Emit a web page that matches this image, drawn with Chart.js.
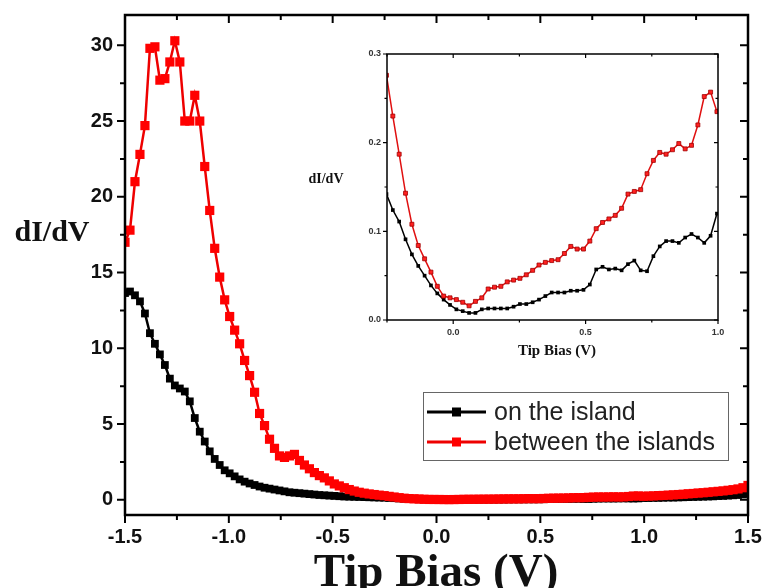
<!DOCTYPE html>
<html>
<head>
<meta charset="utf-8">
<script src="https://cdn.jsdelivr.net/npm/chart.js@4/dist/chart.umd.min.js"></script>
<style>
  body { margin: 0; background: #fff; }
  #wrap { position: relative; width: 765px; height: 588px; }
  #main { position: absolute; left: 0; top: 0; }
  #inset { position: absolute; left: 300px; top: 40px; }
</style>
</head>
<body>
<div id="wrap">
  <canvas id="main" width="765" height="588"></canvas>
  <canvas id="inset" width="440" height="330"></canvas>
</div>
<script>
// tip bias grid (V): -1.5 .. 1.5, 126 samples
const BIAS_START = -1.5
const BIAS_STEP = 0.024
const bias = []
for (let i = 0; i < 126; i++) bias.push(+(BIAS_START + i * BIAS_STEP).toFixed(3))

// dI/dV on the island (black)
const onIsland = [
  13.65, 13.75, 13.5, 13.1, 12.3, 11.0, 10.3, 9.6, 8.9, 8.0,
  7.55, 7.35, 7.15, 6.5, 5.4, 4.5, 3.85, 3.2, 2.7, 2.3,
  1.95, 1.75, 1.55, 1.35, 1.2, 1.08, 0.98, 0.88, 0.8, 0.74,
  0.68, 0.62, 0.56, 0.5, 0.47, 0.44, 0.41, 0.38, 0.35, 0.32,
  0.3, 0.28, 0.26, 0.24, 0.22, 0.21, 0.2, 0.19, 0.18, 0.17,
  0.16, 0.15, 0.142, 0.124, 0.111, 0.091, 0.074, 0.061, 0.050, 0.039,
  0.030, 0.023, 0.017, 0.012, 0.010, 0.008, 0.008, 0.012, 0.013, 0.013,
  0.013, 0.013, 0.015, 0.018, 0.018, 0.020, 0.023, 0.027, 0.031, 0.031,
  0.031, 0.033, 0.033, 0.034, 0.040, 0.057, 0.060, 0.057, 0.058, 0.056,
  0.063, 0.067, 0.056, 0.055, 0.072, 0.083, 0.089, 0.089, 0.087, 0.093,
  0.097, 0.093, 0.087, 0.095, 0.120, 0.12, 0.13, 0.13, 0.14, 0.15,
  0.15, 0.16, 0.17, 0.18, 0.19, 0.20, 0.21, 0.22, 0.23, 0.25,
  0.26, 0.28, 0.30, 0.32, 0.36, 0.42
]

// dI/dV between the islands (red)
const betweenIslands = [
  17.0, 17.8, 21.0, 22.8, 24.7, 29.8, 29.9, 27.7, 27.8, 28.9,
  30.3, 28.9, 25.0, 25.0, 26.7, 25.0, 22.0, 19.1, 16.6, 14.7,
  13.2, 12.1, 11.2, 10.3, 9.2, 8.2, 7.1, 5.7, 4.9, 4.0,
  3.4, 2.9, 2.8, 2.9, 3.0, 2.6, 2.3, 2.05, 1.8, 1.6,
  1.45, 1.25, 1.05, 0.92, 0.8, 0.68, 0.58, 0.5, 0.44, 0.39,
  0.35, 0.31, 0.276, 0.230, 0.187, 0.143, 0.108, 0.084, 0.069, 0.054,
  0.038, 0.027, 0.025, 0.023, 0.020, 0.016, 0.021, 0.025, 0.035, 0.037,
  0.038, 0.043, 0.045, 0.047, 0.051, 0.056, 0.062, 0.065, 0.067, 0.068,
  0.075, 0.083, 0.080, 0.080, 0.089, 0.103, 0.110, 0.114, 0.118, 0.126,
  0.142, 0.145, 0.147, 0.165, 0.180, 0.189, 0.187, 0.192, 0.199, 0.193,
  0.197, 0.220, 0.252, 0.257, 0.235, 0.25, 0.26, 0.28, 0.29, 0.31,
  0.33, 0.35, 0.37, 0.40, 0.42, 0.45, 0.47, 0.50, 0.53, 0.56,
  0.59, 0.63, 0.67, 0.72, 0.80, 0.95
]

// ticks
const mainXMajor = [-1.5, -1.0, -0.5, 0.0, 0.5, 1.0, 1.5]
const mainXMinor = [-1.25, -0.75, -0.25, 0.25, 0.75, 1.25]
const mainYMajor = [0, 5, 10, 15, 20, 25, 30]
const mainYMinor = [2.5, 7.5, 12.5, 17.5, 22.5, 27.5]
const insetXMajor = [0.0, 0.5, 1.0]
const insetXMinor = [-0.25, 0.25, 0.75]
const insetYMajor = [0.0, 0.1, 0.2, 0.3]
const insetYMinor = [0.05, 0.15, 0.25]

const seriesNames = ["on the island", "between the islands"]

const pts = (xs, ys) => xs.map((x, i) => ({ x, y: ys[i] }))

// box frame + Origin-style ticks (outward on bottom/left, inward on top/right)
const frameTicks = {
  id: "frameTicks",
  afterDraw(chart, args, o) {
    const { ctx, chartArea: a, scales: { x, y } } = chart
    ctx.save()
    ctx.strokeStyle = "#000"
    ctx.lineWidth = o.tickWidth
    ctx.beginPath()
    const xt = (v, len) => {
      const p = x.getPixelForValue(v)
      ctx.moveTo(p, a.bottom); ctx.lineTo(p, a.bottom + len)
      ctx.moveTo(p, a.top); ctx.lineTo(p, a.top + len)
    }
    const yt = (v, len) => {
      const p = y.getPixelForValue(v)
      ctx.moveTo(a.left, p); ctx.lineTo(a.left - len, p)
      ctx.moveTo(a.right, p); ctx.lineTo(a.right - len, p)
    }
    o.xMajor.forEach(v => xt(v, o.major))
    o.xMinor.forEach(v => xt(v, o.minor))
    o.yMajor.forEach(v => yt(v, o.major))
    o.yMinor.forEach(v => yt(v, o.minor))
    ctx.stroke()
    ctx.lineWidth = o.frameWidth
    ctx.strokeRect(a.left, a.top, a.right - a.left, a.bottom - a.top)

    // axis titles
    ctx.fillStyle = "#111"
    ctx.textAlign = "center"
    ctx.textBaseline = "alphabetic"
    ctx.font = o.yTitleFont
    ctx.fillText("dI/dV", o.yTitlePos[0], o.yTitlePos[1])
    ctx.font = o.xTitleFont
    ctx.fillText("Tip Bias (V)", o.xTitlePos[0], o.xTitlePos[1])
    ctx.restore()
  },
}

const boxLegend = {
  id: "boxLegend",
  afterDraw(chart) {
    const { ctx } = chart
    ctx.save()
    ctx.strokeStyle = "#666"
    ctx.lineWidth = 1
    ctx.strokeRect(423.5, 392.5, 305, 68)
    chart.data.datasets.forEach((ds, i) => {
      const yRow = 412 + i * 30
      ctx.strokeStyle = ds.borderColor
      ctx.lineWidth = 3
      ctx.beginPath()
      ctx.moveTo(427, yRow); ctx.lineTo(486, yRow)
      ctx.stroke()
      ctx.fillStyle = ds.backgroundColor
      ctx.fillRect(452, yRow - 4.5, 9, 9)
      ctx.fillStyle = "#222"
      ctx.font = "25px 'Liberation Sans', Arial, sans-serif"
      ctx.textAlign = "left"
      ctx.textBaseline = "middle"
      ctx.fillText(seriesNames[i], 494, yRow + 1)
    })
    ctx.restore()
  },
}

const tickFont = { family: "'Liberation Sans', Arial, sans-serif", weight: "bold", size: 20 }

new Chart(document.getElementById("main"), {
  type: "scatter",
  data: {
    datasets: [
      {
        label: seriesNames[0],
        data: pts(bias, onIsland),
        showLine: true,
        borderColor: "#000",
        backgroundColor: "#000",
        borderWidth: 2.5,
        pointStyle: "rect",
        pointRadius: 5.5,
        pointBorderWidth: 0,
        order: 2,
      },
      {
        label: seriesNames[1],
        data: pts(bias, betweenIslands),
        showLine: true,
        borderColor: "#ee0000",
        backgroundColor: "#ff0000",
        borderWidth: 2.5,
        pointStyle: "rect",
        pointRadius: 6.5,
        pointBorderWidth: 0,
        order: 1,
      },
    ],
  },
  options: {
    responsive: false,
    animation: false,
    events: [],
    layout: { padding: { left: 0, right: 17, top: 15, bottom: 0 } },
    plugins: {
      legend: { display: false },
      tooltip: { enabled: false },
      frameTicks: {
        xMajor: mainXMajor, xMinor: mainXMinor, yMajor: mainYMajor, yMinor: mainYMinor,
        major: 8, minor: 5, tickWidth: 2, frameWidth: 2.5,
        yTitleFont: "bold 30px 'Liberation Serif', 'Times New Roman', serif",
        yTitlePos: [52, 241],
        xTitleFont: "bold 47px 'Liberation Serif', 'Times New Roman', serif",
        xTitlePos: [436, 586],
      },
    },
    scales: {
      x: {
        type: "linear", min: -1.5, max: 1.5,
        afterBuildTicks: s => { s.ticks = mainXMajor.map(v => ({ value: v })) },
        afterFit: s => { s.height = 73 },
        grid: { display: false, drawTicks: true, tickLength: 10 },
        border: { display: false },
        ticks: { callback: v => v.toFixed(1), font: tickFont, color: "#111", padding: 0, maxRotation: 0, autoSkip: false },
      },
      y: {
        type: "linear", min: -1, max: 32,
        afterBuildTicks: s => { s.ticks = mainYMajor.map(v => ({ value: v })) },
        afterFit: s => { s.width = 125 },
        grid: { display: false, drawTicks: true, tickLength: 12 },
        border: { display: false },
        ticks: { callback: v => String(v), font: tickFont, color: "#111", padding: 0, autoSkip: false },
      },
    },
  },
  plugins: [frameTicks, boxLegend],
})

// inset: zoom on -0.25 .. 1.0 V
const inRange = (xs, ys) => pts(xs, ys).filter(p => p.x > -0.26 && p.x < 1.03)
const insetFont = { family: "'Liberation Sans', Arial, sans-serif", weight: "bold", size: 9 }

new Chart(document.getElementById("inset"), {
  type: "scatter",
  data: {
    datasets: [
      {
        data: inRange(bias, onIsland),
        showLine: true,
        borderColor: "#000",
        backgroundColor: "#000",
        borderWidth: 1.5,
        pointStyle: "rect",
        pointRadius: 2.6,
        pointBorderWidth: 0,
        order: 2,
      },
      {
        data: inRange(bias, betweenIslands),
        showLine: true,
        borderColor: "#e01010",
        backgroundColor: "#ff2020",
        borderWidth: 1.5,
        pointStyle: "rect",
        pointRadius: 2.8,
        pointBorderWidth: 0.8,
        pointBorderColor: "#a00000",
        order: 1,
      },
    ],
  },
  options: {
    responsive: false,
    animation: false,
    events: [],
    layout: { padding: { left: 0, right: 22, top: 14, bottom: 0 } },
    plugins: {
      legend: { display: false },
      tooltip: { enabled: false },
      frameTicks: {
        xMajor: insetXMajor, xMinor: insetXMinor, yMajor: insetYMajor, yMinor: insetYMinor,
        major: 4, minor: 2.5, tickWidth: 1.2, frameWidth: 1.5,
        yTitleFont: "bold 14px 'Liberation Serif', 'Times New Roman', serif",
        yTitlePos: [26, 143],
        xTitleFont: "bold 15px 'Liberation Serif', 'Times New Roman', serif",
        xTitlePos: [257, 315],
      },
    },
    scales: {
      x: {
        type: "linear", min: -0.25, max: 1.0,
        afterBuildTicks: s => { s.ticks = insetXMajor.map(v => ({ value: v })) },
        afterFit: s => { s.height = 50 },
        grid: { display: false, drawTicks: true, tickLength: 7 },
        border: { display: false },
        ticks: { callback: v => v.toFixed(1), font: insetFont, color: "#333", padding: 0, maxRotation: 0, autoSkip: false },
      },
      y: {
        type: "linear", min: 0, max: 0.3,
        afterBuildTicks: s => { s.ticks = insetYMajor.map(v => ({ value: v })) },
        afterFit: s => { s.width = 87 },
        grid: { display: false, drawTicks: true, tickLength: 6 },
        border: { display: false },
        ticks: { callback: v => v.toFixed(1), font: insetFont, color: "#333", padding: 0, autoSkip: false },
      },
    },
  },
  plugins: [frameTicks],
})
</script>
</body>
</html>
